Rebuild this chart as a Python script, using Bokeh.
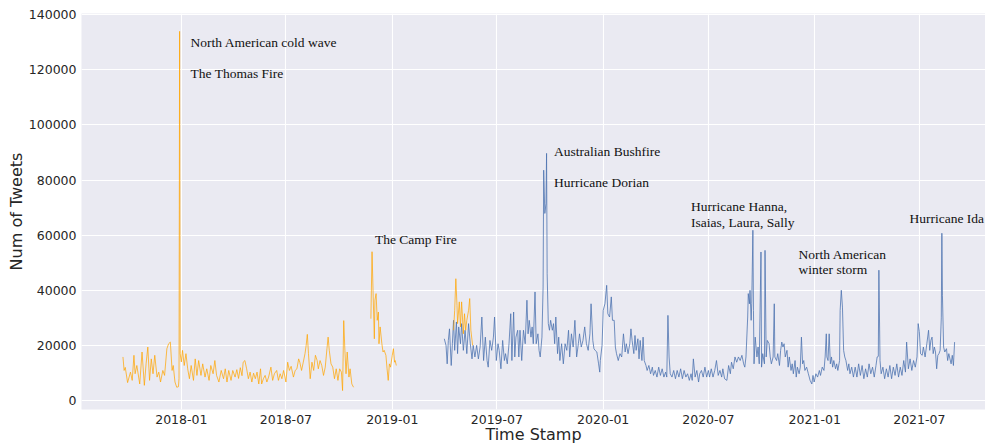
import numpy as np
import pandas as pd
from bokeh.plotting import figure
from bokeh.models import (Range1d, FixedTicker, DatetimeTickFormatter,
                          NumeralTickFormatter, ColumnDataSource)
from bokeh.core.properties import value
from bokeh.embed import file_html
from bokeh.resources import INLINE

# ---------------- data ----------------
# Orange series (three separate stretches, None = gap)
orange = [
    ("2017-09-22", 15800), ("2017-09-24", 10900), ("2017-09-26", 12000), ("2017-09-30", 6500),
    ("2017-10-05", 10300), ("2017-10-08", 7300), ("2017-10-11", 16400), ("2017-10-13", 9700),
    ("2017-10-16", 12700), ("2017-10-21", 6000), ("2017-10-25", 17600), ("2017-10-29", 5500),
    ("2017-11-01", 13300), ("2017-11-04", 19400), ("2017-11-07", 7300), ("2017-11-10", 15100),
    ("2017-11-13", 9700), ("2017-11-16", 16400), ("2017-11-20", 8500), ("2017-11-23", 10300),
    ("2017-11-26", 6700), ("2017-11-30", 10900), ("2017-12-03", 9100), ("2017-12-07", 18800),
    ("2017-12-10", 20600), ("2017-12-13", 21200), ("2017-12-16", 10900), ("2017-12-18", 12700),
    ("2017-12-21", 6700), ("2017-12-24", 4800), ("2017-12-27", 5000), ("2017-12-28", 8000),
    ("2017-12-29", 134000), ("2017-12-30", 17000), ("2018-01-01", 14000), ("2018-01-03", 18200),
    ("2018-01-06", 12700), ("2018-01-09", 17000), ("2018-01-12", 11500), ("2018-01-15", 7900),
    ("2018-01-18", 12700), ("2018-01-22", 7300), ("2018-01-25", 15100), ("2018-01-28", 9100),
    ("2018-01-31", 14500), ("2018-02-04", 9100), ("2018-02-07", 13300), ("2018-02-11", 8500),
    ("2018-02-14", 11500), ("2018-02-18", 7300), ("2018-02-21", 12700), ("2018-02-25", 9700),
    ("2018-02-28", 14500), ("2018-03-03", 9100), ("2018-03-07", 6700), ("2018-03-11", 10900),
    ("2018-03-15", 7900), ("2018-03-18", 11500), ("2018-03-21", 6700), ("2018-03-24", 10900),
    ("2018-03-28", 7300), ("2018-03-31", 10900), ("2018-04-04", 8500), ("2018-04-07", 11200),
    ("2018-04-10", 8000), ("2018-04-13", 11900), ("2018-04-16", 9000), ("2018-04-18", 13900),
    ("2018-04-21", 14500), ("2018-04-24", 11500), ("2018-04-27", 7900), ("2018-04-30", 10300),
    ("2018-05-03", 6700), ("2018-05-06", 9900), ("2018-05-09", 7900), ("2018-05-12", 10300),
    ("2018-05-15", 6000), ("2018-05-18", 11500), ("2018-05-20", 6000), ("2018-05-23", 7900),
    ("2018-05-26", 9100), ("2018-05-29", 6700), ("2018-06-01", 8500), ("2018-06-05", 12100),
    ("2018-06-08", 7300), ("2018-06-11", 9700), ("2018-06-15", 10900), ("2018-06-18", 7300),
    ("2018-06-21", 9700), ("2018-06-24", 7900), ("2018-06-27", 10900), ("2018-07-01", 6700),
    ("2018-07-04", 13900), ("2018-07-07", 10900), ("2018-07-10", 12400), ("2018-07-14", 8500),
    ("2018-07-17", 10900), ("2018-07-20", 11500), ("2018-07-23", 15100), ("2018-07-25", 13900),
    ("2018-07-28", 10900), ("2018-07-31", 13900), ("2018-08-03", 17000), ("2018-08-05", 20000),
    ("2018-08-07", 24000), ("2018-08-09", 17000), ("2018-08-12", 7900), ("2018-08-15", 13900),
    ("2018-08-18", 10900), ("2018-08-21", 16400), ("2018-08-24", 14500), ("2018-08-26", 11500),
    ("2018-08-29", 14500), ("2018-09-01", 12700), ("2018-09-04", 9100), ("2018-09-07", 12100),
    ("2018-09-10", 18800), ("2018-09-12", 23000), ("2018-09-14", 18200), ("2018-09-17", 13300),
    ("2018-09-20", 12100), ("2018-09-23", 7900), ("2018-09-26", 11500), ("2018-09-29", 7300),
    ("2018-10-02", 11500), ("2018-10-05", 10300), ("2018-10-07", 3600), ("2018-10-09", 29000),
    ("2018-10-11", 18200), ("2018-10-13", 9700), ("2018-10-15", 17600), ("2018-10-18", 8500),
    ("2018-10-20", 11500), ("2018-10-23", 6000), ("2018-10-26", 4800),
    ("2018-11-10", None),
    ("2018-11-25", 29700), ("2018-11-27", 54000), ("2018-11-29", 37600), ("2018-12-01", 22400),
    ("2018-12-02", 36400), ("2018-12-04", 38800), ("2018-12-06", 29100), ("2018-12-08", 32100),
    ("2018-12-09", 20600), ("2018-12-11", 26700), ("2018-12-14", 20600), ("2018-12-16", 17600),
    ("2018-12-18", 18200), ("2018-12-21", 16400), ("2018-12-23", 11500), ("2018-12-25", 7300),
    ("2018-12-27", 13300), ("2018-12-29", 12100), ("2019-01-01", 16400), ("2019-01-03", 18800),
    ("2019-01-05", 13900), ("2019-01-06", 14500), ("2019-01-08", 12700),
    ("2019-03-01", None),
    ("2019-04-17", 25500), ("2019-04-19", 32700), ("2019-04-21", 44200), ("2019-04-23", 34500),
    ("2019-04-24", 27900), ("2019-04-27", 35800), ("2019-04-29", 26700), ("2019-05-01", 35800),
    ("2019-05-04", 24200), ("2019-05-06", 31500), ("2019-05-08", 25500), ("2019-05-10", 29100),
    ("2019-05-13", 32700), ("2019-05-15", 37000), ("2019-05-17", 25500), ("2019-05-20", 20000),
]

# Blue series
blue = [
    ("2019-04-01", 22400), ("2019-04-04", 20000), ("2019-04-06", 13300), ("2019-04-08", 21800),
    ("2019-04-10", 26000), ("2019-04-13", 12700), ("2019-04-15", 20600), ("2019-04-17", 29100),
    ("2019-04-19", 18200), ("2019-04-22", 28500), ("2019-04-24", 17000), ("2019-04-26", 26700),
    ("2019-04-29", 20600), ("2019-05-01", 27900), ("2019-05-04", 18200), ("2019-05-07", 25500),
    ("2019-05-10", 17000), ("2019-05-13", 27900), ("2019-05-16", 20600), ("2019-05-19", 15100),
    ("2019-05-21", 20000), ("2019-05-24", 15800), ("2019-05-27", 20000), ("2019-05-30", 15100),
    ("2019-06-02", 19400), ("2019-06-05", 30300), ("2019-06-08", 14500), ("2019-06-11", 23000),
    ("2019-06-14", 14500), ("2019-06-16", 12100), ("2019-06-19", 21800), ("2019-06-22", 18200),
    ("2019-06-25", 23000), ("2019-06-27", 30300), ("2019-06-30", 14500), ("2019-07-03", 20600),
    ("2019-07-05", 18200), ("2019-07-08", 11500), ("2019-07-11", 21800), ("2019-07-14", 14500),
    ("2019-07-16", 17000), ("2019-07-19", 13300), ("2019-07-22", 20600), ("2019-07-25", 31500),
    ("2019-07-27", 14500), ("2019-07-30", 32100), ("2019-08-01", 15800), ("2019-08-03", 23000),
    ("2019-08-06", 25500), ("2019-08-08", 15800), ("2019-08-10", 25500), ("2019-08-13", 14500),
    ("2019-08-16", 25500), ("2019-08-19", 20600), ("2019-08-22", 36400), ("2019-08-24", 24200),
    ("2019-08-26", 29100), ("2019-08-29", 23000), ("2019-08-31", 26700), ("2019-09-02", 20600),
    ("2019-09-05", 39400), ("2019-09-07", 20600), ("2019-09-10", 24200), ("2019-09-12", 18200),
    ("2019-09-14", 15800), ("2019-09-17", 23000), ("2019-09-19", 41200), ("2019-09-20", 83600),
    ("2019-09-22", 67900), ("2019-09-24", 71500), ("2019-09-25", 89700), ("2019-09-26", 46000),
    ("2019-09-28", 27900), ("2019-09-30", 25500), ("2019-10-02", 29100), ("2019-10-05", 25500),
    ("2019-10-07", 27900), ("2019-10-09", 20600), ("2019-10-11", 30300), ("2019-10-14", 17000),
    ("2019-10-16", 23000), ("2019-10-18", 14500), ("2019-10-21", 20600), ("2019-10-24", 13300),
    ("2019-10-27", 20600), ("2019-10-30", 18200), ("2019-11-02", 25500), ("2019-11-04", 15800),
    ("2019-11-07", 24200), ("2019-11-10", 19400), ("2019-11-13", 29100), ("2019-11-16", 15800),
    ("2019-11-19", 20600), ("2019-11-21", 24200), ("2019-11-24", 19400), ("2019-11-27", 21800),
    ("2019-11-30", 26700), ("2019-12-03", 20600), ("2019-12-06", 18200), ("2019-12-09", 24200),
    ("2019-12-11", 35100), ("2019-12-14", 21800), ("2019-12-16", 18800), ("2019-12-18", 18200),
    ("2019-12-21", 17600), ("2019-12-24", 13300), ("2019-12-26", 10300), ("2019-12-27", 14500),
    ("2019-12-30", 20000), ("2020-01-01", 32700), ("2020-01-04", 35100), ("2020-01-07", 41800),
    ("2020-01-09", 31500), ("2020-01-12", 30300), ("2020-01-15", 37600), ("2020-01-17", 29100),
    ("2020-01-20", 29100), ("2020-01-22", 19400), ("2020-01-24", 17000), ("2020-01-27", 14500),
    ("2020-01-30", 17000), ("2020-02-02", 15800), ("2020-02-05", 24200), ("2020-02-08", 17600),
    ("2020-02-10", 20600), ("2020-02-13", 17000), ("2020-02-16", 20600), ("2020-02-18", 26000),
    ("2020-02-20", 21800), ("2020-02-23", 17000), ("2020-02-25", 23600), ("2020-02-27", 18200),
    ("2020-03-01", 22400), ("2020-03-03", 15100), ("2020-03-05", 21800), ("2020-03-08", 14500),
    ("2020-03-10", 23000), ("2020-03-12", 14500), ("2020-03-15", 12700), ("2020-03-17", 10900),
    ("2020-03-20", 12700), ("2020-03-23", 9700), ("2020-03-26", 12100), ("2020-03-28", 9100),
    ("2020-03-31", 10900), ("2020-04-03", 8500), ("2020-04-06", 12100), ("2020-04-09", 9100),
    ("2020-04-12", 11500), ("2020-04-15", 8500), ("2020-04-18", 10300), ("2020-04-20", 8500),
    ("2020-04-22", 30900), ("2020-04-24", 15800), ("2020-04-26", 9700), ("2020-04-29", 8500),
    ("2020-05-02", 10900), ("2020-05-05", 7900), ("2020-05-08", 10900), ("2020-05-11", 8500),
    ("2020-05-14", 11500), ("2020-05-17", 7900), ("2020-05-20", 10900), ("2020-05-23", 8500),
    ("2020-05-26", 9700), ("2020-05-29", 7300), ("2020-06-01", 9700), ("2020-06-03", 7300),
    ("2020-06-05", 15100), ("2020-06-08", 8500), ("2020-06-11", 10900), ("2020-06-14", 6700),
    ("2020-06-16", 9700), ("2020-06-19", 10900), ("2020-06-22", 8500), ("2020-06-25", 12100),
    ("2020-06-28", 8500), ("2020-07-01", 10900), ("2020-07-03", 8500), ("2020-07-06", 11500),
    ("2020-07-09", 8500), ("2020-07-12", 10900), ("2020-07-15", 14500), ("2020-07-18", 9100),
    ("2020-07-21", 10900), ("2020-07-24", 8500), ("2020-07-26", 11500), ("2020-07-29", 7900),
    ("2020-08-02", 7300), ("2020-08-05", 12700), ("2020-08-08", 9700), ("2020-08-10", 13900),
    ("2020-08-13", 11500), ("2020-08-16", 15800), ("2020-08-19", 13900), ("2020-08-22", 15800),
    ("2020-08-25", 14500), ("2020-08-28", 16400), ("2020-08-31", 13300), ("2020-09-02", 12100),
    ("2020-09-04", 15800), ("2020-09-07", 30300), ("2020-09-08", 38800), ("2020-09-10", 35100),
    ("2020-09-11", 40000), ("2020-09-13", 29100), ("2020-09-14", 35100), ("2020-09-16", 61800),
    ("2020-09-17", 32700), ("2020-09-18", 13300), ("2020-09-20", 23000), ("2020-09-23", 15800),
    ("2020-09-25", 19400), ("2020-09-27", 13300), ("2020-09-30", 53900), ("2020-10-01", 12100),
    ("2020-10-03", 17000), ("2020-10-06", 13300), ("2020-10-07", 54500), ("2020-10-09", 15800),
    ("2020-10-11", 21800), ("2020-10-14", 20600), ("2020-10-16", 15800), ("2020-10-18", 13300),
    ("2020-10-21", 15800), ("2020-10-23", 35100), ("2020-10-24", 15800), ("2020-10-27", 14500),
    ("2020-10-29", 17000), ("2020-11-01", 12700), ("2020-11-03", 18200), ("2020-11-05", 21200),
    ("2020-11-07", 19400), ("2020-11-09", 20600), ("2020-11-11", 15800), ("2020-11-14", 18200),
    ("2020-11-16", 12100), ("2020-11-18", 15800), ("2020-11-21", 10900), ("2020-11-23", 13300),
    ("2020-11-25", 9700), ("2020-11-28", 14500), ("2020-11-30", 8500), ("2020-12-02", 12100),
    ("2020-12-05", 9700), ("2020-12-07", 12100), ("2020-12-09", 23000), ("2020-12-11", 13300),
    ("2020-12-13", 14500), ("2020-12-15", 10900), ("2020-12-18", 12100), ("2020-12-21", 9700),
    ("2020-12-24", 7300), ("2020-12-27", 6000), ("2020-12-29", 9100), ("2020-12-31", 6700),
    ("2021-01-03", 9700), ("2021-01-06", 8500), ("2021-01-09", 10900), ("2021-01-11", 9100),
    ("2021-01-14", 12100), ("2021-01-17", 10900), ("2021-01-19", 15800), ("2021-01-21", 24200),
    ("2021-01-22", 15800), ("2021-01-24", 14500), ("2021-01-26", 24200), ("2021-01-28", 13300),
    ("2021-01-30", 15800), ("2021-02-01", 12100), ("2021-02-03", 14500), ("2021-02-06", 11500),
    ("2021-02-08", 13300), ("2021-02-10", 10900), ("2021-02-13", 14500), ("2021-02-14", 32700),
    ("2021-02-16", 40000), ("2021-02-18", 33900), ("2021-02-20", 18200), ("2021-02-22", 15800),
    ("2021-02-24", 14500), ("2021-02-27", 10900), ("2021-03-01", 13300), ("2021-03-03", 9700),
    ("2021-03-06", 12100), ("2021-03-09", 8500), ("2021-03-12", 12100), ("2021-03-15", 8500),
    ("2021-03-18", 13300), ("2021-03-21", 9100), ("2021-03-24", 12700), ("2021-03-27", 7900),
    ("2021-03-30", 11500), ("2021-04-02", 8500), ("2021-04-05", 13300), ("2021-04-08", 9700),
    ("2021-04-11", 12100), ("2021-04-14", 8500), ("2021-04-17", 12700), ("2021-04-19", 15800),
    ("2021-04-21", 16000), ("2021-04-22", 47300), ("2021-04-24", 14500), ("2021-04-26", 9700),
    ("2021-04-29", 12100), ("2021-05-02", 7900), ("2021-05-05", 11500), ("2021-05-08", 8500),
    ("2021-05-11", 12700), ("2021-05-14", 7900), ("2021-05-17", 12100), ("2021-05-20", 9100),
    ("2021-05-23", 13300), ("2021-05-26", 8500), ("2021-05-29", 12100), ("2021-06-01", 9100),
    ("2021-06-04", 14500), ("2021-06-07", 10300), ("2021-06-09", 21200), ("2021-06-12", 11500),
    ("2021-06-15", 15100), ("2021-06-18", 10900), ("2021-06-21", 14500), ("2021-06-24", 12100),
    ("2021-06-27", 15800), ("2021-06-29", 27900), ("2021-07-01", 25000), ("2021-07-03", 17000),
    ("2021-07-06", 16400), ("2021-07-08", 19400), ("2021-07-11", 15800), ("2021-07-14", 20600),
    ("2021-07-17", 25500), ("2021-07-19", 18200), ("2021-07-21", 21800), ("2021-07-23", 23000),
    ("2021-07-25", 17000), ("2021-07-27", 19400), ("2021-07-29", 17600), ("2021-07-31", 11500),
    ("2021-08-02", 16400), ("2021-08-04", 17000), ("2021-08-06", 18200), ("2021-08-08", 30000),
    ("2021-08-09", 60700), ("2021-08-10", 38000), ("2021-08-12", 19400), ("2021-08-14", 17600),
    ("2021-08-17", 18800), ("2021-08-19", 14500), ("2021-08-21", 17000), ("2021-08-23", 15100),
    ("2021-08-25", 13300), ("2021-08-27", 16400), ("2021-08-29", 12700), ("2021-08-31", 21200),
]

# Event annotations: text, date of the left edge, value at the text baseline
event_texts = ["North American cold wave", "The Thomas Fire", "The Camp Fire",
               "Australian Bushfire", "Hurricane Dorian", "Hurricane Hanna,",
               "Isaias, Laura, Sally", "North American", "winter storm", "Hurricane Ida"]
event_dates = ["2018-01-17", "2018-01-17", "2018-12-02", "2019-10-08", "2019-10-08",
               "2020-06-01", "2020-06-01", "2020-12-04", "2020-12-04", "2021-06-14"]
event_values = [129800, 118700, 58600, 90500, 79300, 70400, 64600, 52900, 47400, 65900]

x_tick_labels = ["2018-01", "2018-07", "2019-01", "2019-07",
                 "2020-01", "2020-07", "2021-01", "2021-07"]
y_ticks = [0, 20000, 40000, 60000, 80000, 100000, 120000, 140000]


def to_source(pairs):
    xs = pd.to_datetime([d for d, _ in pairs])
    ys = np.array([np.nan if v is None else v for _, v in pairs], dtype=float)
    return ColumnDataSource(dict(x=xs, y=ys))


p = figure(width=985, height=446, x_axis_type="datetime",
           output_backend="svg", toolbar_location=None, title=None,
           x_range=Range1d(pd.Timestamp("2017-07-12 06:00"), pd.Timestamp("2021-10-23 12:00")),
           y_range=Range1d(-3272, 140473),
           min_border_left=81, min_border_right=0, min_border_top=13, min_border_bottom=37,
           background_fill_color="#EAEAF2", border_fill_color="white",
           outline_line_color=None)

p.line("x", "y", source=to_source(blue), line_color="#4C72B0", line_width=1,
       line_alpha=0.78, line_join="round")
p.line("x", "y", source=to_source(orange), line_color="#FFA500", line_width=1,
       line_alpha=0.72, line_join="round")

ev = ColumnDataSource(dict(x=pd.to_datetime(event_dates), y=event_values, text=event_texts))
p.text("x", "y", text="text", source=ev, text_font=value("Liberation Serif"),
       text_font_size="13.5px", text_color="#111111", text_baseline="alphabetic",
       text_align="left")

# axes
p.xaxis.ticker = FixedTicker(ticks=[pd.Timestamp(t).value / 1e6 for t in x_tick_labels])
p.xaxis.formatter = DatetimeTickFormatter(days="%Y-%m", months="%Y-%m", years="%Y-%m")
p.yaxis.ticker = FixedTicker(ticks=y_ticks)
p.yaxis.formatter = NumeralTickFormatter(format="0")

for ax in (p.xaxis, p.yaxis):
    ax.axis_line_color = None
    ax.major_tick_line_color = None
    ax.minor_tick_line_color = None
    ax.major_tick_out = 0
    ax.major_tick_in = 0
    ax.minor_tick_out = 0
    ax.minor_tick_in = 0
    ax.major_label_text_font = "DejaVu Sans"
    ax.major_label_text_font_size = "12.5px"
    ax.major_label_text_color = "#262626"
    ax.axis_label_text_font = "DejaVu Sans"
    ax.axis_label_text_font_size = "16px"
    ax.axis_label_text_font_style = "normal"
    ax.axis_label_text_color = "#262626"
p.xaxis.major_label_standoff = 5
p.xaxis.axis_label_standoff = -2
p.yaxis.major_label_standoff = 5
p.yaxis.axis_label_standoff = 0

p.yaxis.axis_label = "Num of Tweets"
p.xaxis.axis_label = "Time Stamp"

p.grid.grid_line_color = "white"
p.grid.grid_line_width = 1.1

open("out.html", "w").write(file_html(p, INLINE))
